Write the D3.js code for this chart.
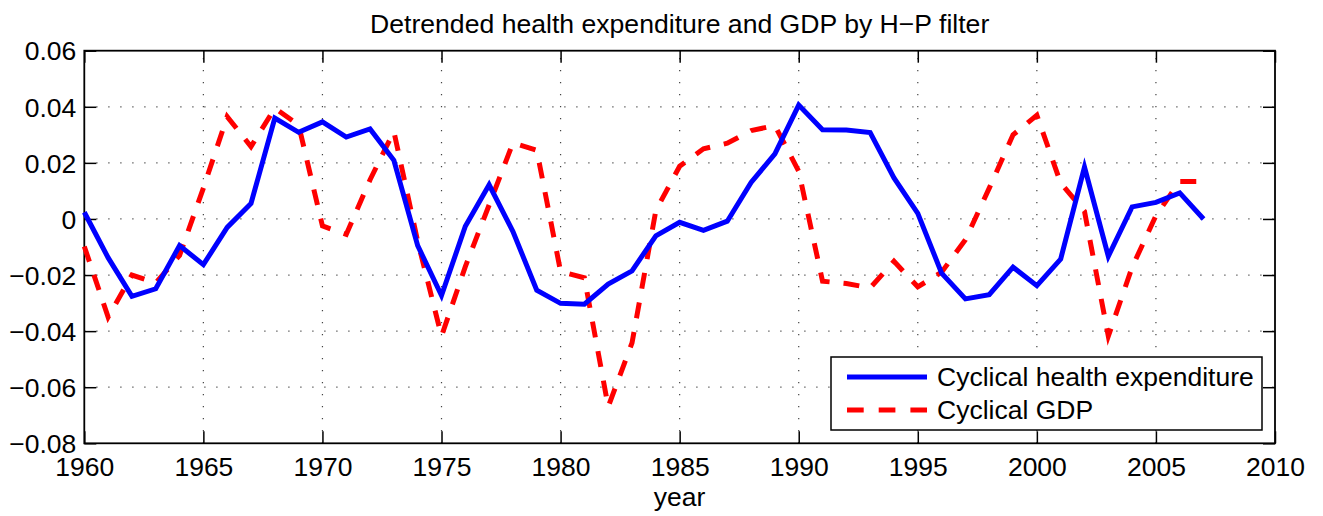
<!DOCTYPE html>
<html>
<head>
<meta charset="utf-8">
<script src="https://cdn.jsdelivr.net/npm/d3@7"></script>
<style>
  body { margin: 0; background: #fff; }
  svg text { font-family: "Liberation Sans", Arial, Helvetica, sans-serif; fill: #000; }
</style>
</head>
<body>
<svg id="chart" width="1323" height="516"></svg>
<script>
const years = [1960, 1961, 1962, 1963, 1964, 1965, 1966, 1967, 1968, 1969,
    1970, 1971, 1972, 1973, 1974, 1975, 1976, 1977, 1978, 1979,
    1980, 1981, 1982, 1983, 1984, 1985, 1986, 1987, 1988, 1989,
    1990, 1991, 1992, 1993, 1994, 1995, 1996, 1997, 1998, 1999,
    2000, 2001, 2002, 2003, 2004, 2005, 2006, 2007];

const healthCycle = [0.0024, -0.0138, -0.0276, -0.0249, -0.0095, -0.0163, -0.003, 0.0055, 0.036, 0.0309,
    0.0346, 0.0292, 0.0321, 0.0209, -0.0095, -0.0273, -0.0026, 0.0122, -0.0045, -0.0254,
    -0.0301, -0.0304, -0.0232, -0.0185, -0.006, -0.0012, -0.0041, -0.0008, 0.013, 0.0232,
    0.0406, 0.0318, 0.0317, 0.0308, 0.0146, 0.002, -0.0193, -0.0285, -0.027, -0.0172,
    -0.0238, -0.0143, 0.0185, -0.0133, 0.0043, 0.0059, 0.0093, 0.0];

const gdpCycle = [-0.0098, -0.035, -0.020, -0.0228, -0.013, 0.011, 0.0365, 0.0258, 0.0395, 0.0335,
    -0.0025, -0.0055, 0.014, 0.0312, -0.008, -0.0418, -0.017, 0.005, 0.0271, 0.0245,
    -0.0187, -0.021, -0.067, -0.0442, 0.003, 0.0188, 0.025, 0.027, 0.0315, 0.0333,
    0.017, -0.0222, -0.023, -0.0246, -0.0151, -0.0242, -0.019, -0.0074, 0.011, 0.030,
    0.037, 0.0128, 0.0027, -0.0418, -0.0172, 0.0012, 0.0134, 0.0134];

const xTicks = [1960, 1965, 1970, 1975, 1980, 1985, 1990, 1995, 2000, 2005, 2010];
const yTicks = [-0.08, -0.06, -0.04, -0.02, 0, 0.02, 0.04, 0.06];
const seriesNames = ['Cyclical health expenditure', 'Cyclical GDP'];

const LEFT = 84.3, RIGHT = 1275, TOP = 50.7, BOTTOM = 443.3;
const TICK = 12;
const FONT = 26.5;

const svg = d3.select('#chart');

const x = d3.scaleLinear().domain([1960, 2010]).range([LEFT, RIGHT]);
const y = d3.scaleLinear().domain([-0.08, 0.06]).range([BOTTOM, TOP]);

const fmtY = (v) => (v === 0 ? '0' : d3.format('.2f')(v).replace('-', '\u2212'));

// grid (dotted, not on box edges)
const grid = svg.append('g').attr('class', 'grid')
    .attr('stroke', '#444').attr('stroke-width', 1.2).attr('stroke-dasharray', '1.2,10.8');

grid.selectAll('line.gx')
    .data(xTicks.slice(1, -1))
    .join('line')
    .attr('x1', (d) => x(d)).attr('x2', (d) => x(d))
    .attr('y1', BOTTOM).attr('y2', TOP);

grid.selectAll('line.gy')
    .data(yTicks.slice(1, -1))
    .join('line')
    .attr('x1', LEFT).attr('x2', RIGHT)
    .attr('y1', (d) => y(d)).attr('y2', (d) => y(d));

// axes: ticks inside on all four sides
const axisBottom = d3.axisBottom(x).tickValues(xTicks).tickFormat(d3.format('d'))
    .tickSizeInner(-TICK).tickSizeOuter(0);
const axisTop = d3.axisTop(x).tickValues(xTicks).tickFormat('')
    .tickSizeInner(-TICK).tickSizeOuter(0);
const axisLeft = d3.axisLeft(y).tickValues(yTicks).tickFormat(fmtY)
    .tickSizeInner(-TICK).tickSizeOuter(0);
const axisRight = d3.axisRight(y).tickValues(yTicks).tickFormat('')
    .tickSizeInner(-TICK).tickSizeOuter(0);

const styleAxis = (g) => {
    g.select('.domain').remove();
    g.selectAll('.tick line').attr('stroke', '#000').attr('stroke-width', 1.5);
    g.selectAll('.tick text')
        .style('font-family', '"Liberation Sans", Arial, sans-serif')
        .style('font-size', FONT + 'px')
        .attr('fill', '#000');
};

svg.append('g').attr('transform', `translate(0,${BOTTOM})`).call(axisBottom).call(styleAxis)
    .selectAll('.tick text').attr('y', 14).attr('dy', '0.71em');
svg.append('g').attr('transform', `translate(0,${TOP})`).call(axisTop).call(styleAxis);
svg.append('g').attr('transform', `translate(${LEFT},0)`).call(axisLeft).call(styleAxis)
    .selectAll('.tick text').attr('x', -8).attr('dy', '0.35em');
svg.append('g').attr('transform', `translate(${RIGHT},0)`).call(axisRight).call(styleAxis);

// box
svg.append('rect')
    .attr('x', LEFT).attr('y', TOP)
    .attr('width', RIGHT - LEFT).attr('height', BOTTOM - TOP)
    .attr('fill', 'none').attr('stroke', '#000').attr('stroke-width', 1.8);

// series
const line = (values) => d3.line()
    .x((d, i) => x(years[i]))
    .y((d) => y(d))(values);

svg.append('path')
    .attr('d', line(gdpCycle))
    .attr('fill', 'none').attr('stroke', '#ff0000').attr('stroke-width', 5)
    .attr('stroke-dasharray', '16,14');

svg.append('path')
    .attr('d', line(healthCycle))
    .attr('fill', 'none').attr('stroke', '#0000ff').attr('stroke-width', 5);

// title and x label
svg.append('text')
    .attr('x', (LEFT + RIGHT) / 2).attr('y', 33)
    .attr('text-anchor', 'middle')
    .style('font-size', '26.6px')
    .text('Detrended health expenditure and GDP by H\u2212P filter');

svg.append('text')
    .attr('x', (LEFT + RIGHT) / 2).attr('y', 506)
    .attr('text-anchor', 'middle')
    .style('font-size', FONT + 'px')
    .text('year');

// legend
const legend = svg.append('g').attr('transform', 'translate(831,357)');
legend.append('rect')
    .attr('width', 431).attr('height', 73)
    .attr('fill', '#fff').attr('stroke', '#000').attr('stroke-width', 1.5);

const legendItems = [
    { name: seriesNames[0], color: '#0000ff', dash: null },
    { name: seriesNames[1], color: '#ff0000', dash: '16.7,15' },
];

legend.selectAll('g.item')
    .data(legendItems)
    .join('g')
    .attr('class', 'item')
    .attr('transform', (d, i) => `translate(0,${20 + i * 33})`)
    .each(function (d) {
        const g = d3.select(this);
        g.append('line')
            .attr('x1', 16).attr('x2', 96)
            .attr('stroke', d.color).attr('stroke-width', 5)
            .attr('stroke-dasharray', d.dash);
        g.append('text')
            .attr('x', 106).attr('dy', '0.35em')
            .style('font-size', FONT + 'px')
            .text(d.name);
    });
</script>
</body>
</html>
